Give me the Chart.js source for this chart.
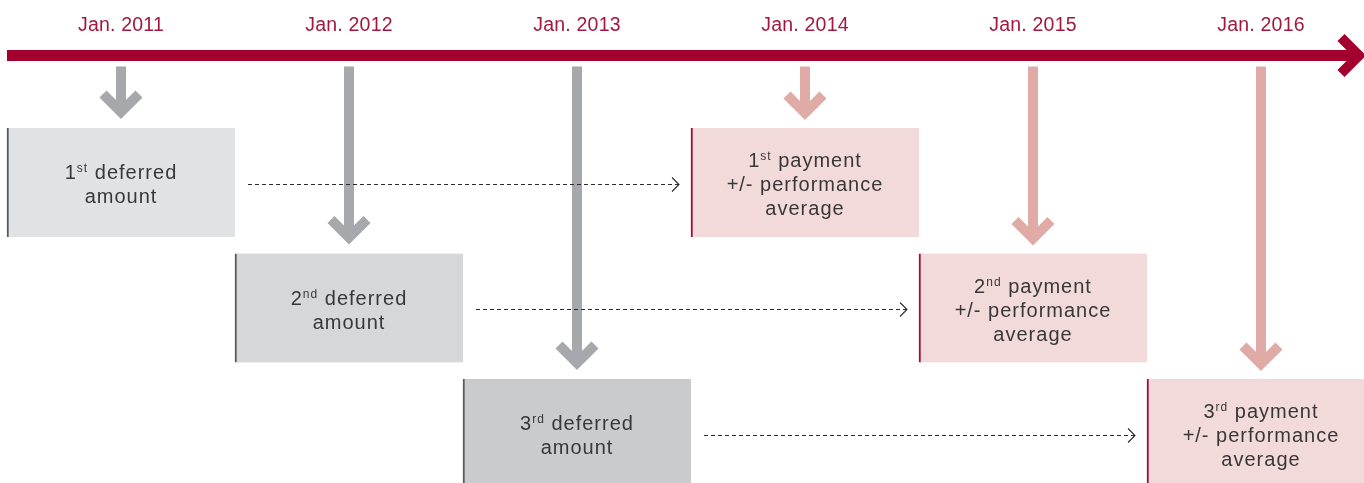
<!DOCTYPE html>
<html>
<head>
<meta charset="utf-8">
<script src="https://cdn.jsdelivr.net/npm/chart.js@4/dist/chart.umd.min.js"></script>
<style>
  html, body { margin: 0; padding: 0; background: #fff; }
  #wrap { width: 1364px; height: 483px; position: relative; }
</style>
</head>
<body>
<div id="wrap"><canvas id="diagram"></canvas></div>
<script>
// timeline
const years = [2011, 2012, 2013, 2014, 2015, 2016];
const yearLabels = ['Jan. 2011', 'Jan. 2012', 'Jan. 2013', 'Jan. 2014', 'Jan. 2015', 'Jan. 2016'];

// the three deferrals and the payments they turn into
const rows = [1, 2, 3];
const ordinals = ['1', '2', '3'];
const ordinalSuffixes = ['st', 'nd', 'rd'];
const deferredYears = [2011, 2012, 2013];
const paymentYears = [2014, 2015, 2016];
const deferredStart = [2010.5, 2011.5, 2012.5];
const deferredEnd = [2011.5, 2012.5, 2013.5];
const paymentStart = [2013.5, 2014.5, 2015.5];
const paymentEnd = [2014.5, 2015.5, 2016.5];

const deferredColors = ['#e1e2e3', '#d6d7d8', '#cacbcc'];
const paymentColor = '#f2dada';
const crimson = '#a4002f';
const labelRed = '#a3173f';
const greyArrow = '#a7a8ab';
const pinkArrow = '#e0aba7';
const textColor = '#383838';
const BOX_H = 109;

const boxData = [];
const boxFill = [];
const boxBorder = [];
rows.forEach((r, i) => {
  boxData.push({ x: [deferredStart[i], deferredEnd[i]], y: r });
  boxFill.push(deferredColors[i]);
  boxBorder.push('#58595b');
});
rows.forEach((r, i) => {
  boxData.push({ x: [paymentStart[i], paymentEnd[i]], y: r });
  boxFill.push(paymentColor);
  boxBorder.push('#a5093a');
});

function downArrow(ctx, cx, fromY, tipY, color) {
  ctx.save();
  ctx.strokeStyle = color;
  ctx.lineWidth = 10;
  ctx.lineCap = 'butt';
  ctx.lineJoin = 'miter';
  ctx.beginPath();
  ctx.moveTo(cx, fromY);
  ctx.lineTo(cx, tipY - 9);
  ctx.stroke();
  ctx.beginPath();
  ctx.moveTo(cx - 18, tipY - 25);
  ctx.lineTo(cx, tipY - 7);
  ctx.lineTo(cx + 18, tipY - 25);
  ctx.stroke();
  ctx.restore();
}

function drawLines(ctx, cx, cy, lines) {
  const n = lines.length;
  lines.forEach((parts, i) => {
    const base = cy + 8.5 + (i - (n - 1) / 2) * 24;
    let w = 0;
    parts.forEach(p => {
      ctx.font = p.sup ? '12px "Liberation Sans", Arial, sans-serif' : '20px "Liberation Sans", Arial, sans-serif';
      w += ctx.measureText(p.t).width;
    });
    let x = cx - w / 2;
    parts.forEach(p => {
      ctx.font = p.sup ? '12px "Liberation Sans", Arial, sans-serif' : '20px "Liberation Sans", Arial, sans-serif';
      ctx.fillText(p.t, x, p.sup ? base - 7 : base);
      x += ctx.measureText(p.t).width;
    });
  });
}

const diagramPlugin = {
  id: 'diagram',
  beforeDatasetsDraw(chart) {
    const { ctx, scales: { x, y } } = chart;
    const ty = y.getPixelForValue(-0.012);
    const left = x.getPixelForValue(deferredStart[0]);
    const tipX = x.getPixelForValue(x.max) + 2;

    ctx.save();
    // timeline bar + arrow head
    ctx.strokeStyle = crimson;
    ctx.lineWidth = 11;
    ctx.lineCap = 'butt';
    ctx.lineJoin = 'miter';
    ctx.beginPath();
    ctx.moveTo(left, ty);
    ctx.lineTo(tipX - 8, ty);
    ctx.stroke();
    ctx.lineWidth = 10;
    ctx.beginPath();
    ctx.moveTo(tipX - 25, ty - 18);
    ctx.lineTo(tipX - 7, ty);
    ctx.lineTo(tipX - 25, ty + 18);
    ctx.stroke();

    // year labels
    ctx.fillStyle = labelRed;
    ctx.font = '19.5px "Liberation Sans", Arial, sans-serif';
    if ('letterSpacing' in ctx) ctx.letterSpacing = '0.2px';
    ctx.textAlign = 'center';
    ctx.textBaseline = 'middle';
    years.forEach((yr, i) => {
      ctx.fillText(yearLabels[i], x.getPixelForValue(yr), y.getPixelForValue(-0.254));
    });
    ctx.restore();

    // vertical arrows from the timeline to each box
    const fromY = ty + 11;
    deferredYears.forEach((yr, i) => {
      const tip = y.getPixelForValue(rows[i]) - BOX_H / 2 - 9;
      downArrow(ctx, x.getPixelForValue(yr), fromY, tip, greyArrow);
    });
    paymentYears.forEach((yr, i) => {
      const tip = y.getPixelForValue(rows[i]) - BOX_H / 2 - 8;
      downArrow(ctx, x.getPixelForValue(yr), fromY, tip, pinkArrow);
    });
  },
  afterDatasetsDraw(chart) {
    const { ctx, scales: { x, y } } = chart;
    ctx.save();

    // dashed connectors deferred -> payment
    ctx.strokeStyle = '#2a2a2a';
    ctx.lineWidth = 1.1;
    rows.forEach((r, i) => {
      const cy = Math.round(y.getPixelForValue(r)) + 1.5;
      const x0 = x.getPixelForValue(deferredEnd[i]) + 13;
      const x1 = x.getPixelForValue(paymentStart[i]) - 12;
      ctx.setLineDash([4, 3]);
      ctx.beginPath();
      ctx.moveTo(x0, cy);
      ctx.lineTo(x1 - 1, cy);
      ctx.stroke();
      ctx.setLineDash([]);
      ctx.beginPath();
      ctx.moveTo(x1 - 7, cy - 7);
      ctx.lineTo(x1, cy);
      ctx.lineTo(x1 - 7, cy + 7);
      ctx.stroke();
    });

    // box texts
    ctx.fillStyle = textColor;
    ctx.textAlign = 'left';
    ctx.textBaseline = 'alphabetic';
    if ('letterSpacing' in ctx) ctx.letterSpacing = '1px';
    rows.forEach((r, i) => {
      const cy = y.getPixelForValue(r);
      drawLines(ctx, x.getPixelForValue((deferredStart[i] + deferredEnd[i]) / 2), cy, [
        [{ t: ordinals[i] }, { t: ordinalSuffixes[i], sup: true }, { t: ' deferred' }],
        [{ t: 'amount' }]
      ]);
      drawLines(ctx, x.getPixelForValue((paymentStart[i] + paymentEnd[i]) / 2), cy, [
        [{ t: ordinals[i] }, { t: ordinalSuffixes[i], sup: true }, { t: ' payment' }],
        [{ t: '+/- performance' }],
        [{ t: 'average' }]
      ]);
    });
    ctx.restore();
  }
};

new Chart(document.getElementById('diagram'), {
  type: 'bar',
  data: {
    datasets: [{
      data: boxData,
      backgroundColor: boxFill,
      borderColor: boxBorder,
      borderWidth: { left: 2, top: 0, right: 0, bottom: 0 },
      borderSkipped: false,
      barThickness: BOX_H
    }]
  },
  options: {
    indexAxis: 'y',
    responsive: true,
    maintainAspectRatio: false,
    animation: false,
    layout: { padding: 0 },
    scales: {
      x: { type: 'linear', min: 2010.4693, max: 2016.4518, offset: false, display: false },
      y: { type: 'linear', min: -0.4542, max: 3.3944, reverse: true, offset: false, display: false }
    },
    plugins: {
      legend: { display: false },
      tooltip: { enabled: false }
    }
  },
  plugins: [diagramPlugin]
});
</script>
</body>
</html>
